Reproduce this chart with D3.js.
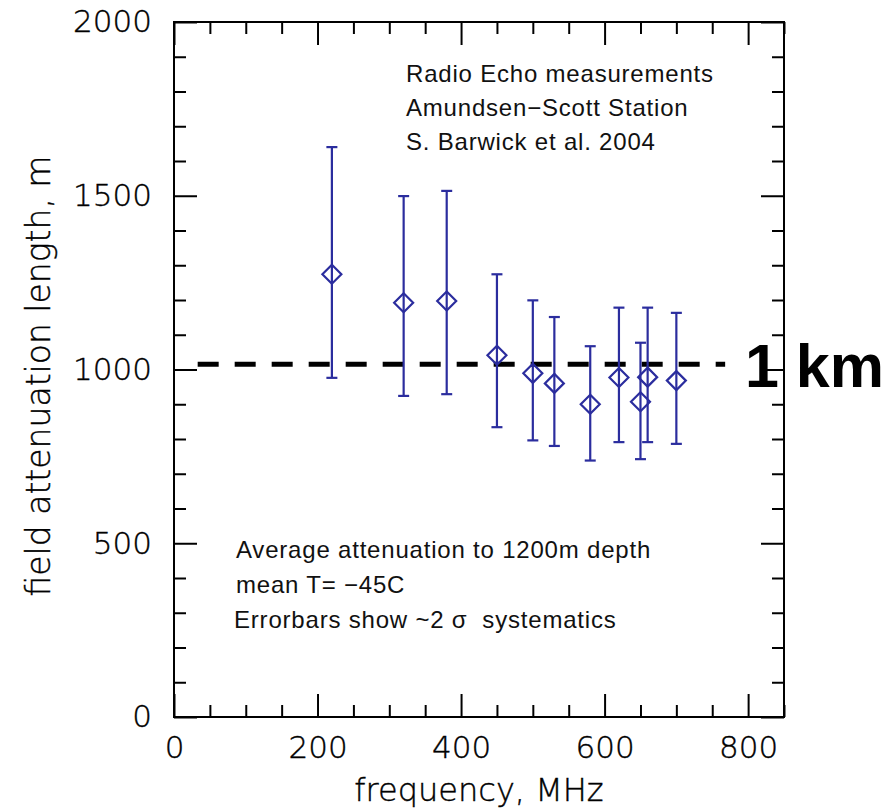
<html lang="en">
<head>
<script src="https://cdn.jsdelivr.net/npm/d3@7"></script>
<style>
body{margin:0;background:#fff;}
.axis path{display:none;}
.axis line{stroke:#000;stroke-width:2;}
.axis text{font-family:"DejaVu Sans";font-weight:200;font-size:31px;fill:#000;stroke:#000;stroke-width:0.4;}
.title{font-family:"DejaVu Sans";font-weight:200;fill:#000;stroke:#000;stroke-width:0.4;}
.note{font-family:"Liberation Sans";font-size:24px;letter-spacing:0.8px;fill:#111;white-space:pre;}
.big{font-family:"Liberation Sans";font-weight:bold;font-size:61px;fill:#000;}
</style>
</head>
<body>
<div id="drawarea"></div>
<script>
const freq   = [220, 320, 380, 450, 500, 530, 580, 620, 650, 660, 700]
const atten  = [1274, 1192, 1197, 1041, 989, 960, 900, 977, 907, 978, 968]
const errHi  = [1640, 1499, 1514, 1274, 1199, 1151, 1067, 1178, 1077, 1178, 1163]
const errLo  = [976, 924, 929, 834, 796, 780, 738, 791, 742, 791, 786]
const xMajor = [0, 200, 400, 600, 800]
const yMajor = [0, 500, 1000, 1500, 2000]
const refLine = {value: 1015, from: 33, to: 768, label: "1 km"}
const noteTop = ["Radio Echo measurements", "Amundsen\u2212Scott Station", "S. Barwick et al. 2004"]
const noteBottom = ["Average attenuation to 1200m depth", "mean T= \u221245C", "Errorbars show ~2 \u03c3  systematics"]

const W=891, H=809
const m={left:174, top:22, right:W-784, bottom:H-717}
const iw=W-m.left-m.right, ih=H-m.top-m.bottom
const blue="#2b2d9e"

const svg=d3.select("#drawarea").append("svg").attr("width",W).attr("height",H)
const g=svg.append("g").attr("transform","translate("+m.left+","+m.top+")")

const x=d3.scaleLinear().domain([0,850]).range([0,iw])
const y=d3.scaleLinear().domain([0,2000]).range([ih,0])
const xMinor=d3.range(0,851,50).filter(v=>v%200)
const yMinor=d3.range(0,2001,100).filter(v=>v%500)

// reference line (drawn under the frame)
g.append("line")
  .attr("x1",x(refLine.from)).attr("x2",x(refLine.to))
  .attr("y1",y(refLine.value)).attr("y2",y(refLine.value))
  .attr("stroke","#000").attr("stroke-width",5).attr("stroke-dasharray","21,16")
svg.append("text").attr("class","big").text(refLine.label)
  .attr("x",745).attr("y",387)

// frame + inward ticks on all sides
g.append("rect").attr("width",iw).attr("height",ih).attr("fill","none").attr("stroke","#000").attr("stroke-width",2)
g.append("g").attr("class","axis").attr("transform","translate(0,"+ih+")")
  .call(d3.axisBottom(x).tickValues(xMajor).tickSize(-23).tickPadding(19).tickFormat(d3.format("d")))
g.append("g").attr("class","axis").attr("transform","translate(0,"+ih+")")
  .call(d3.axisBottom(x).tickValues(xMinor).tickSize(-12).tickFormat(""))
g.append("g").attr("class","axis")
  .call(d3.axisTop(x).tickValues(xMajor).tickSize(-23).tickFormat(""))
g.append("g").attr("class","axis")
  .call(d3.axisTop(x).tickValues(xMinor).tickSize(-12).tickFormat(""))
g.append("g").attr("class","axis")
  .call(d3.axisLeft(y).tickValues(yMajor).tickSize(-23).tickPadding(22).tickFormat(d3.format("d")))
g.append("g").attr("class","axis")
  .call(d3.axisLeft(y).tickValues(yMinor).tickSize(-12).tickFormat(""))
g.append("g").attr("class","axis").attr("transform","translate("+iw+",0)")
  .call(d3.axisRight(y).tickValues(yMajor).tickSize(-23).tickFormat(""))
g.append("g").attr("class","axis").attr("transform","translate("+iw+",0)")
  .call(d3.axisRight(y).tickValues(yMinor).tickSize(-12).tickFormat(""))

// axis titles
svg.append("text").attr("class","title").text("frequency,  MHz")
  .attr("x",m.left+iw/2).attr("y",801).attr("text-anchor","middle").style("font-size","32px")
svg.append("text").attr("class","title").text("field attenuation length,  m")
  .attr("transform","translate(50,376) rotate(-90)").attr("text-anchor","middle").style("font-size","33px")

// error bars + diamonds
const pts=freq.map((f,i)=>({f:f,v:atten[i],hi:errHi[i],lo:errLo[i]}))
const eb=g.append("g").attr("stroke",blue).attr("stroke-width",2.2).attr("fill","none")
eb.selectAll(".bar").data(pts).join("line")
  .attr("x1",d=>x(d.f)).attr("x2",d=>x(d.f)).attr("y1",d=>y(d.hi)).attr("y2",d=>y(d.lo))
eb.selectAll(".capHi").data(pts).join("line")
  .attr("x1",d=>x(d.f)-5.5).attr("x2",d=>x(d.f)+5.5).attr("y1",d=>y(d.hi)).attr("y2",d=>y(d.hi))
eb.selectAll(".capLo").data(pts).join("line")
  .attr("x1",d=>x(d.f)-5.5).attr("x2",d=>x(d.f)+5.5).attr("y1",d=>y(d.lo)).attr("y2",d=>y(d.lo))
eb.selectAll("path").data(pts).join("path")
  .attr("d",d=>{const cx=x(d.f),cy=y(d.v),r=9.5;return "M"+cx+","+(cy-r)+"L"+(cx+r)+","+cy+"L"+cx+","+(cy+r)+"L"+(cx-r)+","+cy+"Z"})

// notes
svg.append("g").selectAll("text").data(noteTop).join("text").attr("class","note")
  .attr("x",406).attr("y",(d,i)=>82+i*34).text(d=>d)
svg.append("g").selectAll("text").data(noteBottom).join("text").attr("class","note")
  .attr("x",(d,i)=>i==2?234:236).attr("y",(d,i)=>558+i*35).text(d=>d)
</script>
</body>
</html>
